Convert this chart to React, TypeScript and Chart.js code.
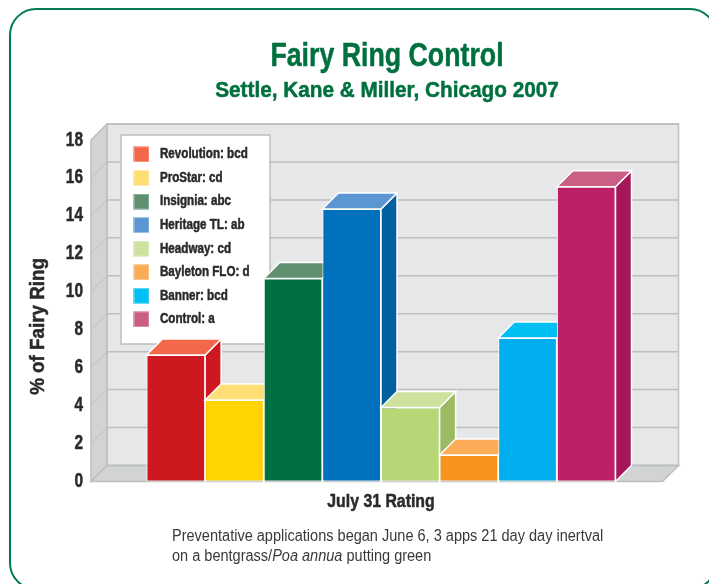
import React, { useEffect, useRef } from "react";
import { Chart, registerables } from "chart.js";

Chart.register(...registerables);

const categories = ["July 31 Rating"];
const legendLabels = [
  "Revolution: bcd",
  "ProStar: cd",
  "Insignia: abc",
  "Heritage TL: ab",
  "Headway: cd",
  "Bayleton FLO: d",
  "Banner: bcd",
  "Control: a",
];
const ratings = [6.67, 4.3, 10.7, 14.36, 3.9, 1.4, 7.56, 15.54];
const frontColors = ["#CE1820", "#FFD400", "#006F41", "#0071BC", "#B5D776", "#F7941D", "#00AEEF", "#BE2068"];
const topColors = ["#F4674B", "#FFDE73", "#5F9070", "#5B95D2", "#CDE29F", "#FBAC56", "#00C0F3", "#CB5E85"];
const sideColors = ["#CE1820", "#E0BA00", "#005A35", "#005F9E", "#9BBA62", "#D67F15", "#0090C8", "#A5165B"];

const titleText = "Fairy Ring Control";
const subtitleText = "Settle, Kane & Miller, Chicago 2007";
const yAxisTitle = "% of Fairy Ring      ";

const FONT = '"Liberation Sans", Arial, sans-serif';
const GREEN = "#00703F";
const INK = "#2B2A29";
const DEPTH = 16;
const FRONT_RIGHT = 662.5;
const WALL_GREY = "#D1D3D4";
const BACK_GREY = "#E6E7E8";
const LINE_GREY = "#BCBEC0";

// The reference uses a condensed face, so each kind of text is narrowed horizontally.
function squeezeFor(text: string) {
  if (text === titleText) return 0.81;
  if (text === subtitleText) return 0.943;
  if (text === yAxisTitle) return 0.94;
  if (categories.includes(text)) return 0.88;
  if (legendLabels.includes(text)) return 0.83;
  return 0.77;
}

function poly(ctx: CanvasRenderingContext2D, pts: number[][], fill: string, stroke?: string, lw = 1.5) {
  ctx.beginPath();
  pts.forEach((p, i) => (i ? ctx.lineTo(p[0], p[1]) : ctx.moveTo(p[0], p[1])));
  ctx.closePath();
  ctx.fillStyle = fill;
  ctx.fill();
  if (stroke) {
    ctx.strokeStyle = stroke;
    ctx.lineWidth = lw;
    ctx.lineJoin = "miter";
    ctx.stroke();
  }
}

const chart3d = {
  id: "chart3d",
  afterLayout(chart: any) {
    const lg = chart.legend;
    if (lg) {
      lg.left = 120.4;
      lg.right = 270;
      lg.top = 137.8;
      lg.bottom = 344;
    }
    for (const box of chart.boxes) {
      if (box.options && (box.options.text === titleText || box.options.text === subtitleText)) {
        box.left = 12;
        box.right = 762;
      }
    }
  },
  beforeDraw(chart: any) {
    const { ctx, chartArea, scales } = chart;
    const l = chartArea.left;
    const r = FRONT_RIGHT;
    const y = scales.y;
    const top = y.getPixelForValue(18);
    const bot = y.getPixelForValue(0);
    const d = DEPTH;
    ctx.save();
    poly(ctx, [[l + d, top - d], [r + d, top - d], [r + d, bot - d], [l + d, bot - d]], BACK_GREY, LINE_GREY);
    poly(ctx, [[l, top], [l + d, top - d], [l + d, bot - d], [l, bot]], WALL_GREY, LINE_GREY);
    poly(ctx, [[l, bot], [l + d, bot - d], [r + d, bot - d], [r, bot]], WALL_GREY, LINE_GREY);
    for (const t of y.ticks) {
      const py = y.getPixelForValue(t.value);
      ctx.strokeStyle = LINE_GREY;
      ctx.lineWidth = 1;
      ctx.beginPath();
      ctx.moveTo(l, py);
      ctx.lineTo(l + d, py - d);
      ctx.stroke();
      ctx.lineWidth = 1.5;
      ctx.beginPath();
      ctx.moveTo(l + d, py - d);
      ctx.lineTo(r + d, py - d);
      ctx.stroke();
    }
    // legend panel
    ctx.fillStyle = "#FFFFFF";
    ctx.fillRect(121, 135, 149, 209);
    ctx.strokeRect(121, 135, 149, 209);
    ctx.restore();
  },
  beforeDatasetsDraw(chart: any) {
    const { ctx } = chart;
    chart.data.datasets.forEach((ds: any, i: number) => {
      const bar = chart.getDatasetMeta(i).data[0];
      const { x, y, base, width } = bar.getProps(["x", "y", "base", "width"], true);
      const l = x - width / 2;
      const r = x + width / 2;
      const d = DEPTH;
      ctx.save();
      poly(ctx, [[r, y], [r + d, y - d], [r + d, base - d], [r, base]], ds.sideColor, "#FFFFFF");
      poly(ctx, [[l, y], [l + d, y - d], [r + d, y - d], [r, y]], ds.topColor, "#FFFFFF");
      ctx.restore();
      bar.draw(ctx);
    });
    return false;
  },
};

function swatch(color: string) {
  const c = document.createElement("canvas");
  c.width = 16;
  c.height = 16;
  const g = c.getContext("2d")!;
  g.fillStyle = color;
  g.fillRect(0, 0, 16, 16);
  g.strokeStyle = "rgba(255,255,255,0.45)";
  g.strokeRect(0.5, 0.5, 15, 15);
  return c;
}

export default function App() {
  const ref = useRef<HTMLCanvasElement>(null);
  useEffect(() => {
    const ctx = ref.current!.getContext("2d")! as any;
    const rawFill = ctx.fillText.bind(ctx);
    const rawStroke = ctx.strokeText.bind(ctx);
    ctx.fillText = (text: string, x: number, y: number, maxWidth?: number) => {
      ctx.save();
      ctx.translate(x, y);
      ctx.scale(squeezeFor(text), 1);
      ctx.strokeStyle = ctx.fillStyle;
      ctx.lineWidth = 0.5;
      ctx.lineJoin = "round";
      rawStroke(text, 0, 0);
      if (maxWidth === undefined) rawFill(text, 0, 0);
      else rawFill(text, 0, 0, maxWidth);
      ctx.restore();
    };
    const chart = new Chart(ref.current!, {
      type: "bar",
      data: {
        labels: categories,
        datasets: legendLabels.map((label, i) => ({
          label,
          data: [ratings[i]],
          backgroundColor: frontColors[i],
          borderColor: "#FFFFFF",
          borderWidth: 1,
          borderSkipped: false,
          topColor: topColors[i],
          sideColor: sideColors[i],
        })) as any,
      },
      plugins: [chart3d as any],
      options: {
        responsive: false,
        animation: false,
        devicePixelRatio: 1,
        layout: { padding: { top: 37.5, left: 26, right: 38, bottom: 60 } },
        datasets: { bar: { categoryPercentage: 0.8086, barPercentage: 1 } },
        plugins: {
          tooltip: { enabled: false },
          title: {
            display: true,
            text: titleText,
            color: GREEN,
            font: { family: FONT, size: 33, weight: "bold" },
            padding: { top: 0, bottom: 0.9 },
          },
          subtitle: {
            display: true,
            text: subtitleText,
            color: GREEN,
            font: { family: FONT, size: 22, weight: "bold" },
            padding: { top: 0, bottom: 35.6 },
          },
          legend: {
            display: true,
            position: "chartArea",
            align: "start",
            labels: {
              usePointStyle: true,
              pointStyleWidth: 23,
              padding: 9.57,
              color: INK,
              font: { family: FONT, size: 14, weight: "bold" },
              generateLabels: () =>
                legendLabels.map((text, i) => ({
                  text,
                  fontColor: INK,
                  pointStyle: swatch(topColors[i]),
                  datasetIndex: i,
                  lineWidth: 0,
                  strokeStyle: "transparent",
                  fillStyle: topColors[i],
                })),
            },
          },
        } as any,
        scales: {
          x: {
            grid: { display: false, drawTicks: false },
            border: { display: false },
            afterFit: (s: any) => {
              s.height = 42.5;
            },
            ticks: {
              color: INK,
              padding: 10,
              font: { family: FONT, size: 18, weight: "bold" },
            },
          },
          y: {
            min: 0,
            max: 18,
            grid: { display: false, drawTicks: false },
            border: { display: false },
            afterFit: (s: any) => {
              s.width = 65;
            },
            ticks: {
              stepSize: 2,
              color: INK,
              padding: 8,
              font: { family: FONT, size: 20, weight: "bold" },
            },
            title: {
              display: true,
              text: yAxisTitle,
              color: INK,
              padding: { top: 0, bottom: 0 },
              font: { family: FONT, size: 20, weight: "bold" },
            },
          },
        },
      } as any,
    });
    return () => chart.destroy();
  }, []);

  return (
    <div style={{ position: "fixed", left: 0, top: 0, width: 709, height: 584, overflow: "hidden", background: "#fff" }}>
      <div
        style={{
          position: "absolute",
          left: 9,
          top: 8,
          width: 708,
          height: 582,
          border: "2.5px solid #007B4F",
          borderRadius: 27,
          boxSizing: "border-box",
        }}
      />
      <canvas ref={ref} width={709} height={584} style={{ position: "absolute", left: 0, top: 0, display: "block" }} />
      <div
        style={{
          position: "absolute",
          left: 172,
          top: 526,
          fontFamily: FONT,
          fontSize: 16,
          lineHeight: "20px",
          color: "#3A3938",
          whiteSpace: "nowrap",
          transform: "scaleX(0.908)",
          transformOrigin: "left top",
        }}
      >
        Preventative applications began June 6, 3 apps 21 day day inertval
        <br />
        on a bentgrass/<i>Poa annua</i> putting green
      </div>
    </div>
  );
}
